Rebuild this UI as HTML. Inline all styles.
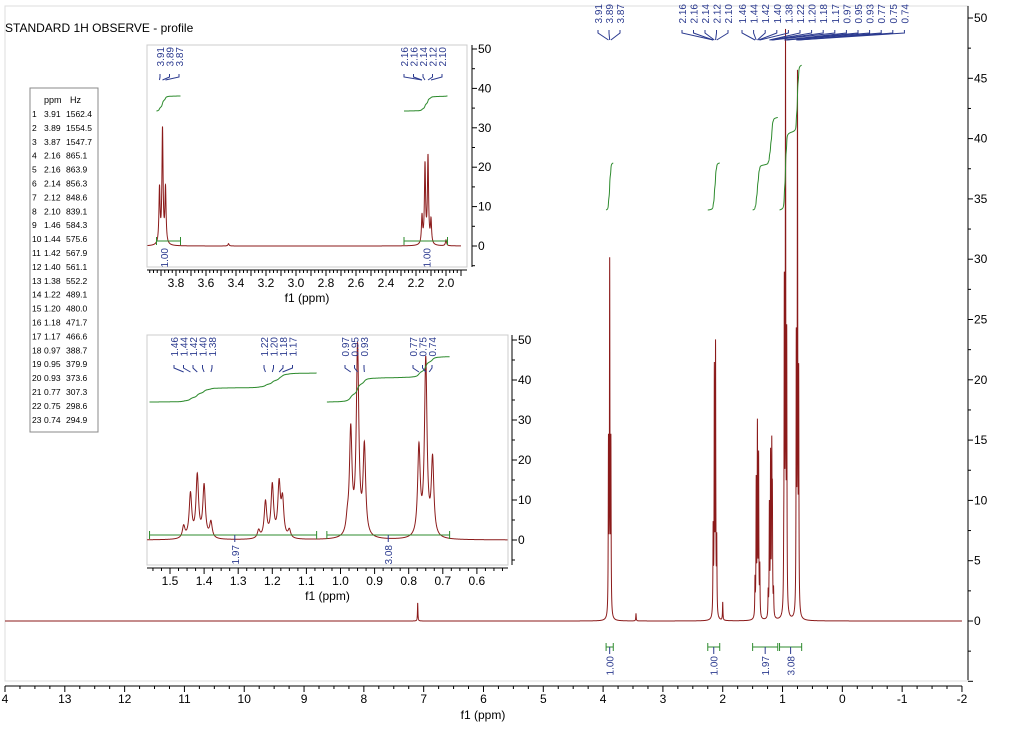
<!DOCTYPE html>
<html><head><meta charset="utf-8"><style>
body{margin:0;background:#fff;width:1024px;height:739px;overflow:hidden;font-family:"Liberation Sans",sans-serif}
svg text{font-family:"Liberation Sans",sans-serif}
</style></head><body>
<svg id="s" width="1024" height="739" xmlns="http://www.w3.org/2000/svg"></svg>
<script>
const peakPpm=[7.10,3.91,3.89,3.87,3.45,2.16,2.14,2.12,2.10,2.00,1.46,1.44,1.42,1.40,1.38,1.24,1.22,1.20,1.18,1.17,1.15,0.98,0.97,0.95,0.93,0.77,0.75,0.73];
const peakHeight=[1.5,14,29,14,0.6,7,20,22,6,1.5,3,11,15.5,13,4,2,9,13,13,9,2,3,26,47,22,22,44,19];
const integralFrom=[3.95,2.25,1.50,1.05];
const integralTo=[3.83,2.05,1.08,0.68];
const integralValues=["1.00","1.00","1.97","3.08"];
const mainXTicks=[14,13,12,11,10,9,8,7,6,5,4,3,2,1,0,-1,-2];
const mainYTicks=[0,5,10,15,20,25,30,35,40,45,50];
const topLabels=["3.91","3.89","3.87","2.16","2.16","2.14","2.12","2.10","1.46","1.44","1.42","1.40","1.38","1.22","1.20","1.18","1.17","0.97","0.95","0.93","0.77","0.75","0.74"];
const tableHz=["1562.4","1554.5","1547.7","865.1","863.9","856.3","848.6","839.1","584.3","575.6","567.9","561.1","552.2","489.1","480.0","471.7","466.6","388.7","379.9","373.6","307.3","298.6","294.9"];
const inset1XTicks=[3.8,3.6,3.4,3.2,3.0,2.8,2.6,2.4,2.2,2.0];
const inset2XTicks=[1.5,1.4,1.3,1.2,1.1,1.0,0.9,0.8,0.7,0.6];
const insetYTicks=[0,10,20,30,40,50];
const inset1Labels=[["3.91","3.89","3.87"],["2.16","2.16","2.14","2.12","2.10"]];
const inset2Labels=[["1.46","1.44","1.42","1.40","1.38"],["1.22","1.20","1.18","1.17"],["0.97","0.95","0.93"],["0.77","0.75","0.74"]];
const inset2Ranges=[[1.56,1.07,"1.97"],[1.04,0.68,"3.08"]];

const S=document.getElementById('s');const NS='http://www.w3.org/2000/svg';
function el(t,a,p){const e=document.createElementNS(NS,t);for(const k in a)e.setAttribute(k,a[k]);(p||S).appendChild(e);return e;}
function txt(x,y,s,a,p){const e=el('text',Object.assign({x:x,y:y},a),p);e.textContent=s;return e;}
const W=0.0045;
function f(p){let s=0;for(let i=0;i<peakPpm.length;i++){const d=(p-peakPpm[i])/W;s+=peakHeight[i]/(1+d*d);}return s;}
function specPath(x,y,a,b,step){let d='';for(let p=a;p>=b;p-=step){d+=(d?'L':'M')+x(p).toFixed(2)+','+y(f(p)).toFixed(2);}return d;}
function integ(a,b){let s=0;const st=0.0005;for(let p=a;p>=b;p-=st)s+=f(p)*st;return s;}

let t=txt(5,32,"STANDARD 1H OBSERVE - profile",{'font-size':12,fill:'#000'});


const mx=p=>5+(14-p)*59.81, my=v=>621-v*12.06;
el('rect',{x:5,y:6,width:963,height:675,fill:'none',stroke:'#ddd'});
let g=el('g',{});
el('line',{x1:5,y1:686,x2:962,y2:686,stroke:'#000'},g);
for(let p=14;p>=-2;p-=0.25){el('line',{x1:mx(p),y1:686,x2:mx(p),y2:p%1==0?692:689,stroke:'#000'},g);}
mainXTicks.forEach(v=>{txt(mx(v),703,v==14?"4":String(v),{'font-size':12,'text-anchor':'middle'},g);});
txt(483,719,"f1 (ppm)",{'font-size':12,'text-anchor':'middle'},g);
g=el('g',{});
el('line',{x1:968,y1:6,x2:968,y2:680,stroke:'#000'},g);
for(let v=-5;v<=50;v+=2.5)el('line',{x1:968,y1:my(v),x2:v%5==0?973:971,y2:my(v),stroke:'#000'},g);
mainYTicks.forEach(v=>{txt(974,my(v)+4,(v==0?"0":String(v)),{'font-size':12},g);});
let sp=el('path',{d:specPath(mx,my,14,-2,0.0008),fill:'none',stroke:'#8b1a1a','stroke-width':1});

integralFrom.forEach((a,i)=>{const b=integralTo[i];const tot=integ(a,b);const k=47*parseFloat(integralValues[i]);
 let d='',s=0;const st=0.001;for(let p=a;p>=b;p-=st){s+=f(p)*st;d+=(d?'L':'M')+mx(p).toFixed(2)+','+(210-s/tot*k).toFixed(2);}
 const c=el('path',{d:d,fill:'none',stroke:'#2e8b2e','stroke-width':1});
 
 const ig=el('g',{});
 el('line',{x1:mx(a),y1:647,x2:mx(b),y2:647,stroke:'#2e8b2e'},ig);
 el('line',{x1:mx(a),y1:643,x2:mx(a),y2:651,stroke:'#2e8b2e'},ig);el('line',{x1:mx(b),y1:643,x2:mx(b),y2:651,stroke:'#2e8b2e'},ig);
 const cx=(mx(a)+mx(b))/2;el('line',{x1:cx,y1:647,x2:cx,y2:654,stroke:'#2b3a8f'},ig);
 txt(0,0,integralValues[i],{'font-size':10,fill:'#2b3a8f','text-anchor':'end',transform:`translate(${cx+4},656) rotate(-90)`},ig);
});
const lg=el('g',{});
topLabels.forEach((l,i)=>{const lx=i<3?598+i*11:(i<8?682+(i-3)*11.5:742+(i-8)*11.6);
 txt(0,0,l,{'font-size':10,fill:'#2b3a8f','text-anchor':'end',transform:`translate(${lx+4},4) rotate(-90)`},lg);
 const px=mx(parseFloat(l));el('path',{d:`M${lx},30 L${lx},33 L${px},40`,fill:'none',stroke:'#2b3a8f','stroke-width':1},lg);
});
const tg=el('g',{});
el('rect',{x:30,y:88,width:68,height:344,fill:'#fff',stroke:'#888'},tg);
txt(44,103,"ppm",{'font-size':9},tg);txt(70,103,"Hz",{'font-size':9},tg);
topLabels.forEach((l,i)=>{const y=117+i*13.9;txt(32,y,String(i+1),{'font-size':8.5},tg);txt(44,y,l,{'font-size':8.5},tg);txt(66,y,tableHz[i],{'font-size':8.5},tg);});

function inset(name,bx,by,bw,bh,x,y,a,b,xt,ax){
 const gg=el('g',{});
 el('rect',{x:bx,y:by,width:bw,height:bh,fill:'#fff',stroke:'#ccc'},gg);
 el('line',{x1:bx,y1:by+bh+3,x2:bx+bw,y2:by+bh+3,stroke:'#000'},gg);
 for(let p=Math.round(a*40)/40;p>=b;p-=0.025){const X=x(p);if(X<bx||X>bx+bw)continue;const maj=Math.abs(p*10-Math.round(p*10))<0.01;el('line',{x1:X,y1:by+bh+3,x2:X,y2:by+bh+(maj?9:6),stroke:'#000'},gg);}
 xt.forEach(v=>txt(x(v),by+bh+20,v.toFixed(1),{'font-size':12,'text-anchor':'middle'},gg));
 txt(bx+bw/2,by+bh+35,"f1 (ppm)",{'font-size':12,'text-anchor':'middle'},gg);
 el('line',{x1:ax,y1:by,x2:ax,y2:by+bh,stroke:'#000'},gg);
 for(let v=-5;v<=50;v+=5)el('line',{x1:ax,y1:y(v),x2:ax+(v%10==0?5:3),y2:y(v),stroke:'#000'},gg);
 insetYTicks.forEach(v=>txt(ax+6,y(v)+4,String(v),{'font-size':12},gg));
 el('path',{d:specPath(x,y,a,b,0.0003),fill:'none',stroke:'#8b1a1a','stroke-width':1},gg);
 return gg;
}
const x1=p=>176+(3.8-p)*150, y1=v=>246-v*3.94;
const g1=inset('inset-3p9-2p1',147,45,320,222,x1,y1,3.99,1.9,inset1XTicks,472);
[[3.93,3.77,"1.00",3.88],[2.28,1.99,"1.00",2.13]].forEach(r=>{
 el('line',{x1:x1(r[0]),y1:241,x2:x1(r[1]),y2:241,stroke:'#2e8b2e'},g1);
 el('line',{x1:x1(r[0]),y1:237,x2:x1(r[0]),y2:245,stroke:'#2e8b2e'},g1);el('line',{x1:x1(r[1]),y1:237,x2:x1(r[1]),y2:245,stroke:'#2e8b2e'},g1);
 txt(0,0,r[2],{'font-size':10,fill:'#2b3a8f','text-anchor':'end',transform:`translate(${x1(r[3])+4},248) rotate(-90)`},g1);
 const tot=integ(r[0],r[1]);let d='',s=0;for(let p=r[0];p>=r[1];p-=0.001){s+=f(p)*0.001;d+=(d?'L':'M')+x1(p).toFixed(1)+','+(111-s/tot*15).toFixed(1);}
 el('path',{d:d,fill:'none',stroke:'#2e8b2e'},g1);
});
inset1Labels.forEach((grp,gi)=>{const base=gi==0?160:404;grp.forEach((l,i)=>{const lx=base+i*9.5;
 txt(0,0,l,{'font-size':10,fill:'#2b3a8f','text-anchor':'end',transform:`translate(${lx+4},47) rotate(-90)`},g1);
 el('path',{d:`M${lx},74 L${lx},77 L${x1(parseFloat(l))},80`,fill:'none',stroke:'#2b3a8f'},g1);});});
const x2=p=>170+(1.5-p)*341, y2=v=>540-v*4;
const g2=inset('inset-1p5-0p6',147,335,361,230,x2,y2,1.567,0.51,inset2XTicks,512);
inset2Ranges.forEach((r,ri)=>{
 el('line',{x1:x2(r[0]),y1:535,x2:x2(r[1]),y2:535,stroke:'#2e8b2e'},g2);
 el('line',{x1:x2(r[0]),y1:531,x2:x2(r[0]),y2:539,stroke:'#2e8b2e'},g2);el('line',{x1:x2(r[1]),y1:531,x2:x2(r[1]),y2:539,stroke:'#2e8b2e'},g2);
 const cx=x2(ri==0?1.31:0.86);el('line',{x1:cx,y1:535,x2:cx,y2:542,stroke:'#2b3a8f'},g2);
 txt(0,0,r[2],{'font-size':10,fill:'#2b3a8f','text-anchor':'end',transform:`translate(${cx+4},545) rotate(-90)`},g2);
 const tot=integ(r[0],r[1]);const k=14.7*parseFloat(r[2]);let d='',s=0;for(let p=r[0];p>=r[1];p-=0.0005){s+=f(p)*0.0005;d+=(d?'L':'M')+x2(p).toFixed(1)+','+(402-s/tot*k).toFixed(1);}
 el('path',{d:d,fill:'none',stroke:'#2e8b2e'},g2);
});
inset2Labels.forEach((grp,gi)=>{const base=[174,264,345,413][gi];grp.forEach((l,i)=>{const lx=base+i*9.5;
 txt(0,0,l,{'font-size':10,fill:'#2b3a8f','text-anchor':'end',transform:`translate(${lx+4},337) rotate(-90)`},g2);
 el('path',{d:`M${lx},365 L${lx},368 L${x2(parseFloat(l))},372`,fill:'none',stroke:'#2b3a8f'},g2);});});
</script>
</body></html>
